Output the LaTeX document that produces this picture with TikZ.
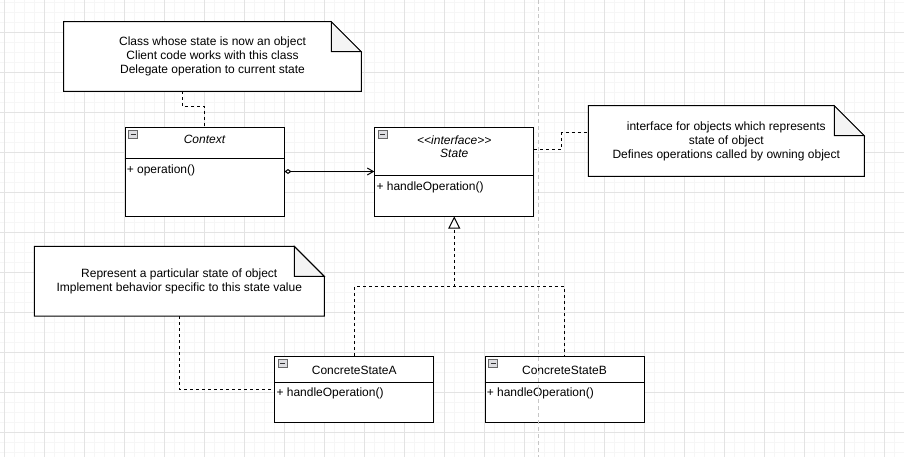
\documentclass[tikz,border=0pt]{standalone}
\usepackage{fontspec}
\setmainfont{Liberation Sans}
\usetikzlibrary{arrows.meta,calc}
\pgfdeclarelayer{grid}
\pgfdeclarelayer{background}
\pgfsetlayers{grid,background,main}
\tikzset{
  plain/.style={font=\fontsize{9}{10.5}\selectfont},
  abstract/.style={font=\fontsize{9}{10.5}\selectfont\itshape},
  umlclass/.style={draw, fill=white, line width=0.75pt, inner sep=0pt, minimum width=119.25pt},
  umlnote/.style={align=center, inner sep=0pt, plain},
  notefill/.style={draw, fill=white, line width=0.75pt},
  fold/.style={draw, fill=gray!9, line width=0.75pt},
  member/.style={anchor=west, inner sep=1.5pt, plain},
  link/.style={line width=0.75pt, dash pattern=on 2.25pt off 2.25pt},
  icon/.style={draw=gray!80!black, fill=blue!6!gray!25, line width=0.5pt},
  minorgrid/.style={gray!7, line width=0.75pt},
  majorgrid/.style={gray!22, line width=0.75pt},
}
\begin{document}
\begin{tikzpicture}[x=0.75pt, y=-0.75pt, plain]
    \useasboundingbox (0,0) rectangle (904,457);
    % grid
    \begin{pgfonlayer}{grid}
      \fill[white] (0,0) rectangle (904,457);
      \foreach \x in {-6,4,...,904} { \draw[minorgrid] (\x,0) -- (\x,457); }
      \foreach \y in {2,12,...,457} { \draw[minorgrid] (0,\y) -- (904,\y); }
      \foreach \x in {4,44,...,904} { \draw[majorgrid] (\x,0) -- (\x,457); }
      \foreach \y in {32,72,...,457} { \draw[majorgrid] (0,\y) -- (904,\y); }
    \end{pgfonlayer}

    % classes
    \node[umlclass, minimum height=66.75pt] (context) at (204.5,171.5) {};
    \node[umlclass, minimum height=66.75pt] (state) at (454.25,171.5) {};
    \node[umlclass, minimum height=49.5pt] (concA) at (354.25,389) {};
    \node[umlclass, minimum height=49.5pt] (concB) at (564.5,389) {};
    \draw[line width=0.75pt]
      ($(context.north west)+(0,32)$) -- ($(context.north east)+(0,32)$)
      ($(state.north west)+(0,49)$) -- ($(state.north east)+(0,49)$)
      ($(concA.north west)+(0,27)$) -- ($(concA.north east)+(0,27)$)
      ($(concB.north west)+(0,27)$) -- ($(concB.north east)+(0,27)$)
    ;
    \foreach \b in {context,state,concA,concB} {
      \draw[icon] ($(\b.north west)+(4,4)$) rectangle ++(9,8);
      \draw[line width=0.75pt, black!80] ($(\b.north west)+(6,8)$) -- ++(5,0);
    }
    \node[abstract] (contextname) at ($(context.north)+(0,13)$) {Context};
    \node[abstract] (stereo) at ($(state.north)+(0,14)$) {<\kern0pt<interface>\kern0pt>};
    \node[abstract] (statename) at ($(state.north)+(0,27)$) {State};
    \node (concAname) at ($(concA.north)+(0,14.5)$) {ConcreteStateA};
    \node (concBname) at ($(concB.north)+(0,14.5)$) {ConcreteStateB};
    \node[member] (contextop) at ($(context.north west)+(0,43.5)$) {+ operation()};
    \node[member] (stateop) at ($(state.north west)+(0,61)$) {+ handleOperation()};
    \node[member] (concAop) at ($(concA.north west)+(0,38)$) {+ handleOperation()};
    \node[member] (concBop) at ($(concB.north west)+(0,38)$) {+ handleOperation()};

    % notes
    \node[umlnote, minimum width=222.75pt, minimum height=51.75pt] (note1) at (212.5,56.5)
      {Class whose state is now an object\\Client code works with this class\\Delegate operation to current state};
    \node[umlnote, minimum width=206.6pt, minimum height=52.5pt] (note2) at (726.25,141)
      {interface for objects which represents\\state of object\\Defines operations called by owning object};
    \node[umlnote, minimum width=217.1pt, minimum height=52pt] (note3) at (179.25,281.3)
      {Represent a particular state of object\\Implement behavior specific to this state value};
    \begin{pgfonlayer}{background}
      \foreach \n in {note1,note2,note3} {
        \draw[notefill] (\n.south west) -- (\n.north west) -- ($(\n.north east)+(-30,0)$)
          -- ($(\n.north east)+(0,30)$) -- (\n.south east) -- cycle;
        \draw[fold] ($(\n.north east)+(-30,0)$) -- ++(0,30) -- ++(30,0) -- cycle;
      }
    \end{pgfonlayer}

    % connectors
    \draw[link] ($(note1.south)+(-30.5,0)$) -- ++(0,15) -| (context.north);
    \draw[link] ($(state.east)+(0,-22.5)$) -- ++(27.5,0) |- ($(note2.west)+(0,-8.3)$);
    \draw[link] (note3.south) |- (concA.west);
    \draw[line width=0.75pt, {Diamond[open,length=5.25pt,width=3.75pt]}-{Straight Barb[length=4.5pt,width=5.25pt]}]
      (context.east) -- (state.west);
    \coordinate (fork) at ($(state.south)+(0,70)$);
    \draw[link] (concA.north) |- (fork) -| (concB.north);
    \draw[link, -{Triangle[open,length=9pt,width=9pt]}] (fork) -- (state.south);

    % page break
    \draw[gray!45, line width=0.75pt, dash pattern=on 3pt off 2.25pt] (538.3,0) -- (538.3,457);
  \end{tikzpicture}
\end{document}
